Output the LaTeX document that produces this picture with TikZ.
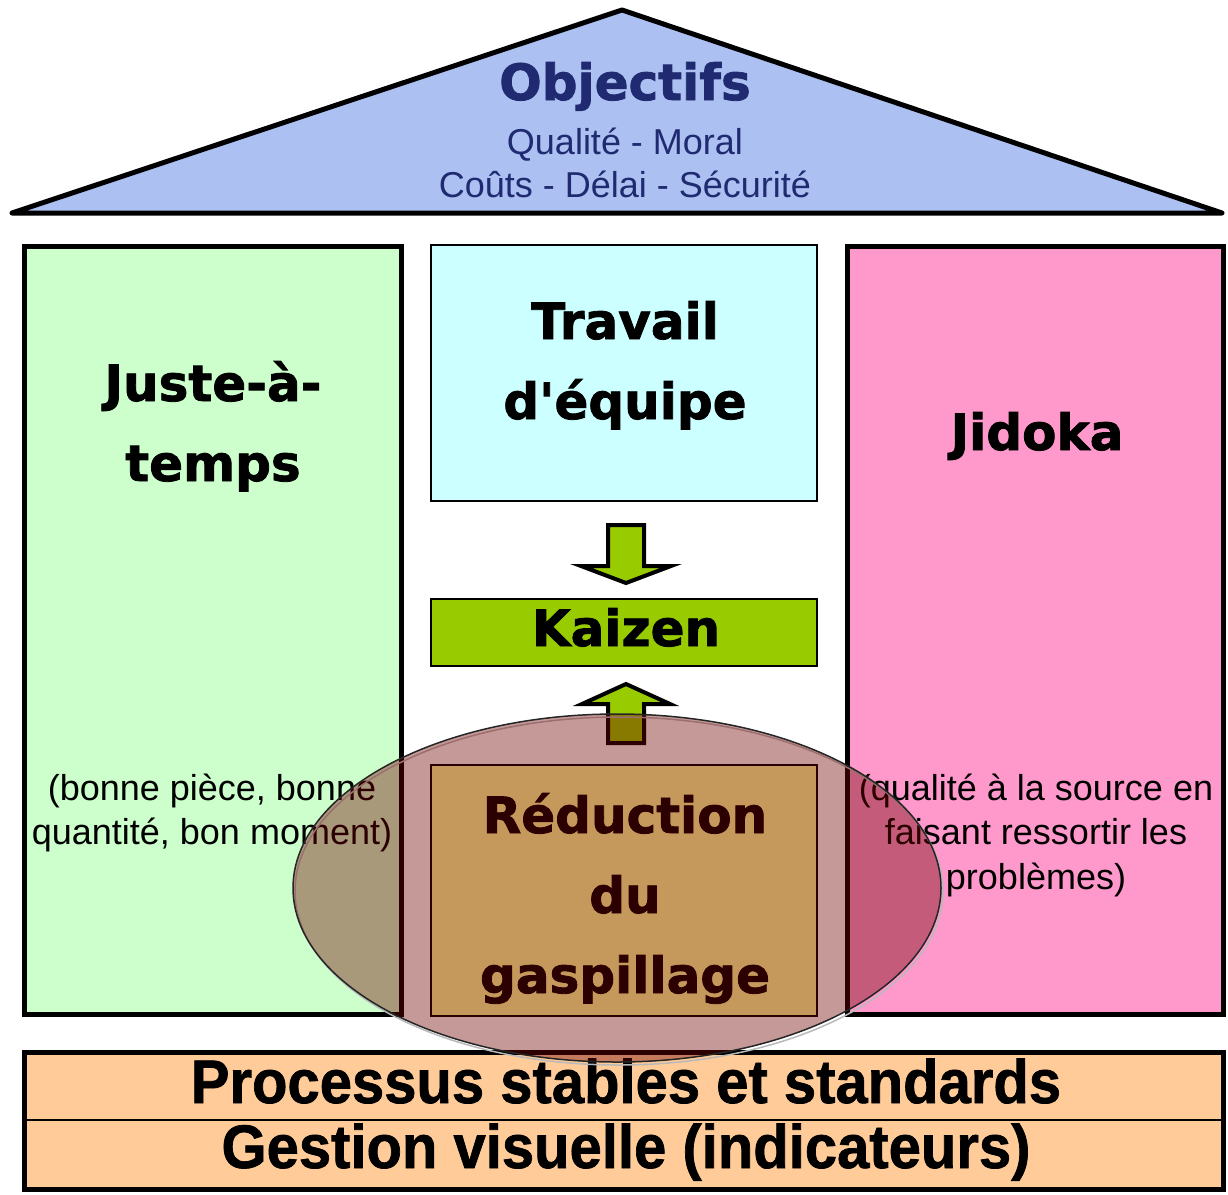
\documentclass[tikz,border=0pt]{standalone}
\usepackage{fontspec}
\setmainfont{Liberation Sans}[BoldFeatures={FakeBold=1.2}]
\newfontfamily\heavy{DejaVu Sans}[BoldFeatures={FakeBold=1.6}]
\definecolor{roofblue}{HTML}{ADC0F2}
\definecolor{navy}{HTML}{1F2A70}
\definecolor{jitgreen}{HTML}{CCFFCC}
\definecolor{teamcyan}{HTML}{CCFFFF}
\definecolor{jidpink}{HTML}{FF99CC}
\definecolor{kzgreen}{HTML}{99CC00}
\definecolor{wasteyellow}{HTML}{FFFF99}
\definecolor{baseorange}{HTML}{FFCC99}
\definecolor{overlayred}{HTML}{700000}
\begin{document}
\begin{tikzpicture}[x=1pt,y=-1pt,
  pillar/.style={draw=black, line width=5, inner sep=0, outer sep=0},
  thinbox/.style={draw=black, line width=2, inner sep=0, outer sep=0},
  bigtxt/.style={font=\heavy\bfseries\fontsize{50}{60}\selectfont, anchor=base, inner sep=0},
  smalltxt/.style={font=\fontsize{36}{44}\selectfont, anchor=base, inner sep=0},
  basetxt/.style={font=\bfseries\fontsize{58}{66}\selectfont, anchor=base, inner sep=0},
  blockarrow/.style={draw=black, line width=4, fill=kzgreen, line join=miter}
]
\useasboundingbox (0,0) rectangle (1228,1194);

% roof
\coordinate (rl) at (12,213);
\coordinate (rt) at (622,10);
\coordinate (rr) at (1222,213);
\draw[line width=5, fill=roofblue, line join=round] (rl) -- (rt) -- (rr) -- cycle;
\node[bigtxt, text=navy] (obj) at (625,100) {Objectifs};
\node[smalltxt, text=navy] (obj1) at (625,154) {Qualité - Moral};
\node[smalltxt, text=navy] (obj2) at (625,197) {Coûts - Délai - Sécurité};

% pillars
\node[pillar, fill=jitgreen, minimum width=377, minimum height=768] (jit) at (213,630.5) {};
\node[pillar, fill=jidpink, minimum width=376, minimum height=768] (jid) at (1035.5,630.5) {};
\node[thinbox, fill=teamcyan, minimum width=386, minimum height=256] (team) at (624,373) {};
\node[thinbox, fill=kzgreen, minimum width=386, minimum height=67] (kz) at (624,632.5) {};
\node[thinbox, fill=wasteyellow, minimum width=386, minimum height=251] (waste) at (624,890.5) {};

% pillar texts
\node[bigtxt] (jit1) at (213,401) {Juste-à-};
\node[bigtxt] (jit2) at (213,481) {temps};
\node[smalltxt] (jit3) at (212,800) {(bonne pièce, bonne};
\node[smalltxt] (jit4) at (212,844) {quantité, bon moment)};

\node[bigtxt] (team1) at (625,339) {Travail};
\node[bigtxt] (team2) at (625,419) {d'équipe};

\node[bigtxt] (jid1) at (1037,450) {Jidoka};
\node[smalltxt] (jid2) at (1036,800) {(qualité à la source en};
\node[smalltxt] (jid3) at (1036,844) {faisant ressortir les};
\node[smalltxt] (jid4) at (1036,889) {problèmes)};

\node[bigtxt] (kz1) at (626,646) {Kaizen};

\node[bigtxt] (w1) at (625,833) {Réduction};
\node[bigtxt] (w2) at (625,913) {du};
\node[bigtxt] (w3) at (625,993) {gaspillage};

% block arrows
\draw[blockarrow] ([xshift=2pt,yshift=16pt]kz.north) -- ++(-45,-17) -- ++(27,0) -- ++(0,-41) -- ++(36,0) -- ++(0,41) -- ++(27,0) -- cycle;
\draw[blockarrow] ([xshift=2pt,yshift=-18pt]kz.south) -- ++(-44,20) -- ++(26,0) -- ++(0,39) -- ++(36,0) -- ++(0,-39) -- ++(26,0) -- cycle;

% base
\node[draw=black, line width=1.5, fill=baseorange, minimum width=1199, minimum height=67.5, inner sep=0, outer sep=0] (proc) at (624,1086.25) {};
\node[draw=black, line width=1.5, fill=baseorange, minimum width=1199, minimum height=69.5, inner sep=0, outer sep=0] (gest) at (624,1154.75) {};
\draw[line width=5] (proc.north west) rectangle (gest.south east);
\node[basetxt] (proct) at (626,1103) {\scalebox{1.0}[1.06]{Processus stables et standards}};
\node[basetxt] (gestt) at (626,1168) {\scalebox{1.0}[1.06]{Gestion visuelle (indicateurs)}};

% waste ellipse overlay
\coordinate (ec) at (617,888);
\draw[gray!55, line width=1.5] ([shift={(2,3)}]ec) ellipse [x radius=324, y radius=174];
\fill[overlayred, fill opacity=0.4] (ec) ellipse [x radius=324, y radius=174];
\draw[black!85, line width=1.5] (ec) ellipse [x radius=324, y radius=174];
\end{tikzpicture}
\end{document}
